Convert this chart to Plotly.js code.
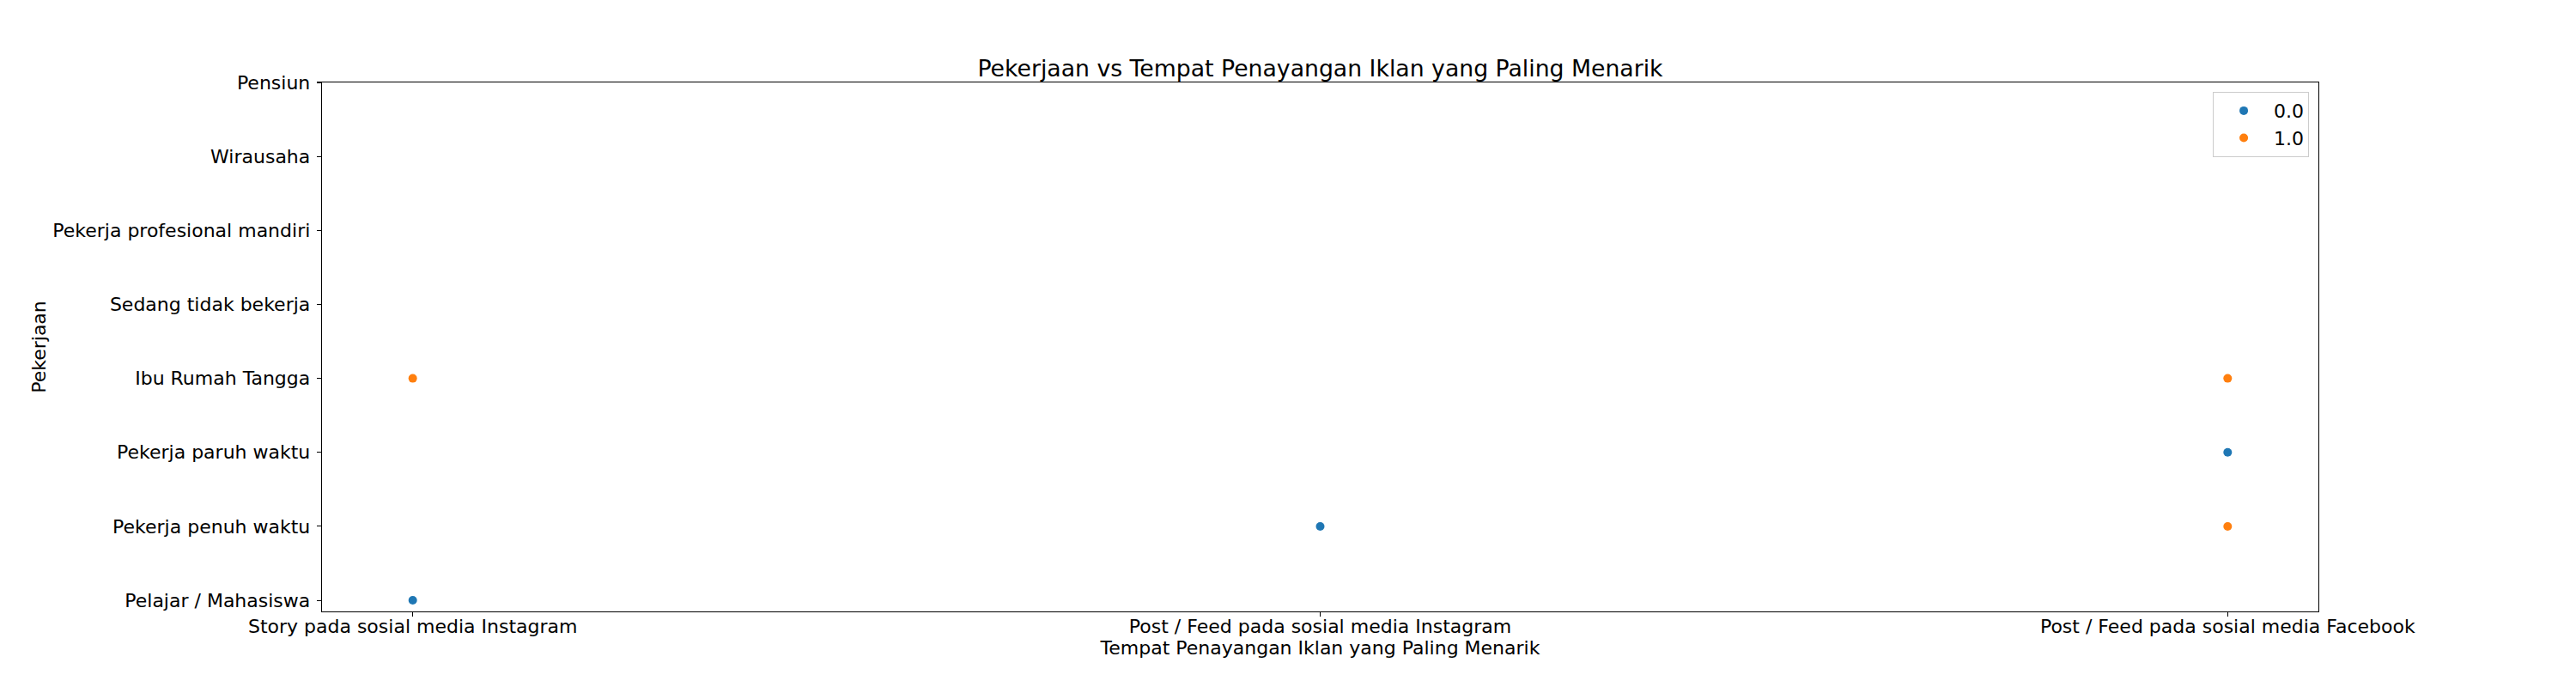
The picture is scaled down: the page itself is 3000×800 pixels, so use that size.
<!DOCTYPE html>
<html>
<head>
<meta charset="utf-8">
<script src="https://cdn.plot.ly/plotly-3.0.1.min.js"></script>
<style>html,body{margin:0;padding:0;background:#fff;}#chart{width:3000px;height:800px;}</style>
</head>
<body>
<div id="chart"></div>
<script>
const placeCategories = ["Story pada sosial media Instagram", "Post / Feed pada sosial media Instagram", "Post / Feed pada sosial media Facebook"];
const jobCategories = ["Pelajar / Mahasiswa", "Pekerja penuh waktu", "Pekerja paruh waktu", "Ibu Rumah Tangga", "Sedang tidak bekerja", "Pekerja profesional mandiri", "Wirausaha", "Pensiun"];

const series0Name = "0.0";
const series0Place = ["Story pada sosial media Instagram", "Post / Feed pada sosial media Instagram", "Post / Feed pada sosial media Facebook"];
const series0Job = ["Pelajar / Mahasiswa", "Pekerja penuh waktu", "Pekerja paruh waktu"];

const series1Name = "1.0";
const series1Place = ["Story pada sosial media Instagram", "Post / Feed pada sosial media Facebook", "Post / Feed pada sosial media Facebook"];
const series1Job = ["Ibu Rumah Tangga", "Ibu Rumah Tangga", "Pekerja penuh waktu"];

const FONT = "DejaVu Sans, sans-serif";

const traces = [
  {x: series0Place, y: series0Job, name: series0Name, type: "scatter", mode: "markers",
   marker: {color: "#1f77b4", size: 10, line: {width: 0}}},
  {x: series1Place, y: series1Job, name: series1Name, type: "scatter", mode: "markers",
   marker: {color: "#ff7f0e", size: 10, line: {width: 0}}}
];

const layout = {
  width: 3000, height: 800,
  paper_bgcolor: "#ffffff", plot_bgcolor: "#ffffff",
  margin: {l: 375, r: 300, t: 96, b: 88, pad: 0},
  font: {family: FONT, size: 22, color: "#000"},
  title: {text: "Pekerjaan vs Tempat Penayangan Iklan yang Paling Menarik",
          font: {family: FONT, size: 26.7, color: "#000"},
          x: 0.5125, xanchor: "center", y: 0.901, yanchor: "middle", yref: "container"},
  xaxis: {
    type: "category", categoryorder: "array", categoryarray: placeCategories,
    range: [-0.1, 2.1], showgrid: false, zeroline: false,
    showline: true, linecolor: "#000", linewidth: 1.3, mirror: true,
    ticks: "outside", ticklen: 5, tickwidth: 1.1, tickcolor: "#000",
    ticklabelstandoff: -8,
    tickfont: {family: FONT, size: 22, color: "#000"},
    title: {text: "Tempat Penayangan Iklan yang Paling Menarik", font: {family: FONT, size: 22, color: "#000"}, standoff: 2}
  },
  yaxis: {
    type: "category", categoryorder: "array", categoryarray: jobCategories,
    range: [-0.15, 7], showgrid: false, zeroline: false,
    showline: true, linecolor: "#000", linewidth: 1.3, mirror: true,
    ticks: "outside", ticklen: 5, tickwidth: 1.1, tickcolor: "#000",
    ticklabelstandoff: 3,
    tickfont: {family: FONT, size: 22, color: "#000"},
    title: {text: "Pekerjaan", font: {family: FONT, size: 22, color: "#000"}, standoff: 1}
  },
  showlegend: true,
  legend: {x: 0.9953, xanchor: "right", y: 0.982, yanchor: "top",
           bgcolor: "rgba(255,255,255,0.8)", bordercolor: "#cccccc", borderwidth: 1,
           font: {family: FONT, size: 22, color: "#000"}, itemwidth: 60}
};

Plotly.newPlot("chart", traces, layout, {displayModeBar: false, staticPlot: true});
</script>
</body>
</html>
